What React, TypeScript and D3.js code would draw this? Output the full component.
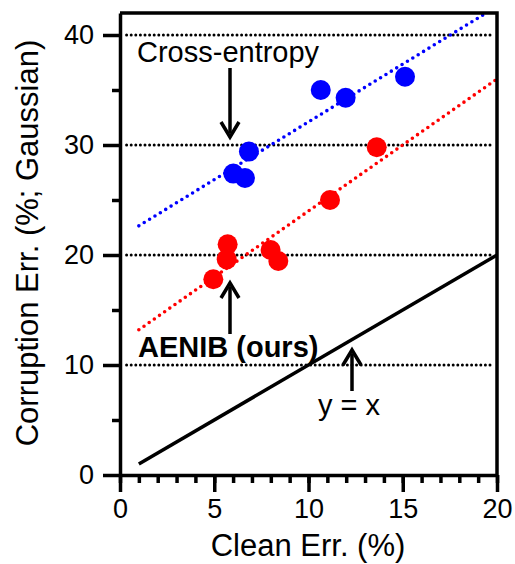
import React, { useEffect, useRef } from "react";
import * as d3 from "d3";

// Cross-entropy points (clean err, corruption err)
const ceClean = [10.65, 11.97, 15.12, 6.84, 6.01, 6.63];
const ceCorrupt = [35.0, 34.3, 36.2, 29.4, 27.4, 27.0];
// AENIB (ours)
const aeClean = [13.62, 11.14, 5.71, 5.66, 4.95, 7.99, 8.4];
const aeCorrupt = [29.8, 25.0, 20.97, 19.6, 17.8, 20.45, 19.45];
// fitted trend lines [x, y]
const ceFit = [[1, 22.65], [20, 42.6]];
const aeFit = [[1, 13.2], [20, 36.0]];
const identity = [[1, 1], [20, 20]];
const gridValues = [10, 20, 30, 40];
const xMajor = [0, 5, 10, 15, 20];
const yMajor = [0, 10, 20, 30, 40];

const W = 515;
const H = 564;
const FONT = "'Liberation Sans', Arial, Helvetica, sans-serif";

const App = () => {
  const svgRef = useRef<SVGSVGElement>(null);

  useEffect(() => {
    const svg = d3.select(svgRef.current);
    svg.selectAll("*").remove();

    const x = d3.scaleLinear().domain([0, 20]).range([120, 497]);
    const y = d3.scaleLinear().domain([0, 42]).range([475, 13]);

    svg.append("defs").append("clipPath").attr("id", "plot")
      .append("rect").attr("x", 120).attr("y", 13).attr("width", 377).attr("height", 462);

    // dotted grid
    svg.append("g").selectAll("line").data(gridValues).join("line")
      .attr("x1", x(0.35)).attr("x2", x(19.8))
      .attr("y1", (d) => y(d)).attr("y2", (d) => y(d))
      .attr("stroke", "#000").attr("stroke-width", 3)
      .attr("stroke-linecap", "round").attr("stroke-dasharray", "0 4.6");

    const line = d3.line<number[]>().x((d) => x(d[0])).y((d) => y(d[1]));
    const plot = svg.append("g").attr("clip-path", "url(#plot)");

    plot.append("path").attr("d", line(ceFit)).attr("fill", "none")
      .attr("stroke", "#0000ff").attr("stroke-width", 3.6)
      .attr("stroke-linecap", "round").attr("stroke-dasharray", "0 6.3");
    plot.append("path").attr("d", line(aeFit)).attr("fill", "none")
      .attr("stroke", "#ff0000").attr("stroke-width", 3.6)
      .attr("stroke-linecap", "round").attr("stroke-dasharray", "0 6.3");
    plot.append("path").attr("d", line(identity)).attr("fill", "none")
      .attr("stroke", "#000").attr("stroke-width", 3.5);

    plot.append("g").selectAll("circle").data(ceClean).join("circle")
      .attr("cx", (d) => x(d)).attr("cy", (d, i) => y(ceCorrupt[i]))
      .attr("r", 10).attr("fill", "#0000ff");
    plot.append("g").selectAll("circle").data(aeClean).join("circle")
      .attr("cx", (d) => x(d)).attr("cy", (d, i) => y(aeCorrupt[i]))
      .attr("r", 10).attr("fill", "#ff0000");

    // frame
    svg.append("path")
      .attr("d", `M${x(0)},${y(42)}H${x(20)}V${y(0)}`)
      .attr("fill", "none").attr("stroke", "#000").attr("stroke-width", 3.5);

    // axes
    const styleAxis = (g) => {
      g.select(".domain").attr("stroke-width", 3.5);
      g.selectAll(".tick line").attr("stroke-width", 3.5);
      g.selectAll("text").attr("font-family", FONT).attr("font-size", 27).attr("fill", "#000");
    };
    svg.append("g").attr("transform", `translate(0,${y(0)})`)
      .call(d3.axisBottom(x).tickValues(d3.range(0, 21)).tickSize(8).tickFormat(() => ""))
      .call((g) => g.select(".domain").remove())
      .call(styleAxis);
    svg.append("g").attr("transform", `translate(0,${y(0)})`)
      .call(d3.axisBottom(x).tickValues(xMajor).tickSize(17).tickSizeOuter(0).tickPadding(7))
      .call(styleAxis);
    svg.append("g").attr("transform", `translate(${x(0)},0)`)
      .call(d3.axisLeft(y).tickValues([5, 15, 25, 35]).tickSize(8).tickFormat(() => ""))
      .call((g) => g.select(".domain").remove())
      .call(styleAxis);
    svg.append("g").attr("transform", `translate(${x(0)},0)`)
      .call(d3.axisLeft(y).tickValues(yMajor).tickSize(17).tickSizeOuter(0).tickPadding(9))
      .call(styleAxis);

    // annotations
    const arrow = (xv, y1, y2) => {
      const dir = y2 > y1 ? 1 : -1;
      svg.append("line").attr("x1", xv).attr("x2", xv).attr("y1", y1).attr("y2", y2 - dir * 4)
        .attr("stroke", "#000").attr("stroke-width", 3.5);
      svg.append("path")
        .attr("d", `M${xv - 9},${y2 - dir * 15}L${xv},${y2}L${xv + 9},${y2 - dir * 15}`)
        .attr("fill", "none").attr("stroke", "#000").attr("stroke-width", 3.5);
    };
    arrow(230, 68, 137);
    arrow(230, 334, 283);
    arrow(352, 391, 350);

    svg.append("text").attr("x", 137).attr("y", 62).text("Cross-entropy")
      .attr("font-family", FONT).attr("font-size", 29);
    svg.append("text").attr("x", 138).attr("y", 357).text("AENIB (ours)")
      .attr("font-family", FONT).attr("font-size", 29).attr("font-weight", "bold");
    svg.append("text").attr("x", 318).attr("y", 415).text("y = x")
      .attr("font-family", FONT).attr("font-size", 29);

    svg.append("text").attr("x", 308).attr("y", 556).attr("text-anchor", "middle")
      .text("Clean Err. (%)").attr("font-family", FONT).attr("font-size", 31);
    svg.append("text").attr("transform", "translate(38,243) rotate(-90)")
      .attr("text-anchor", "middle").text("Corruption Err. (%; Gaussian)")
      .attr("font-family", FONT).attr("font-size", 31);
  }, []);

  return (
    <svg ref={svgRef} width={W} height={H}
      style={{ position: "absolute", left: 0, top: 0, background: "#fff" }} />
  );
};

export default App;
